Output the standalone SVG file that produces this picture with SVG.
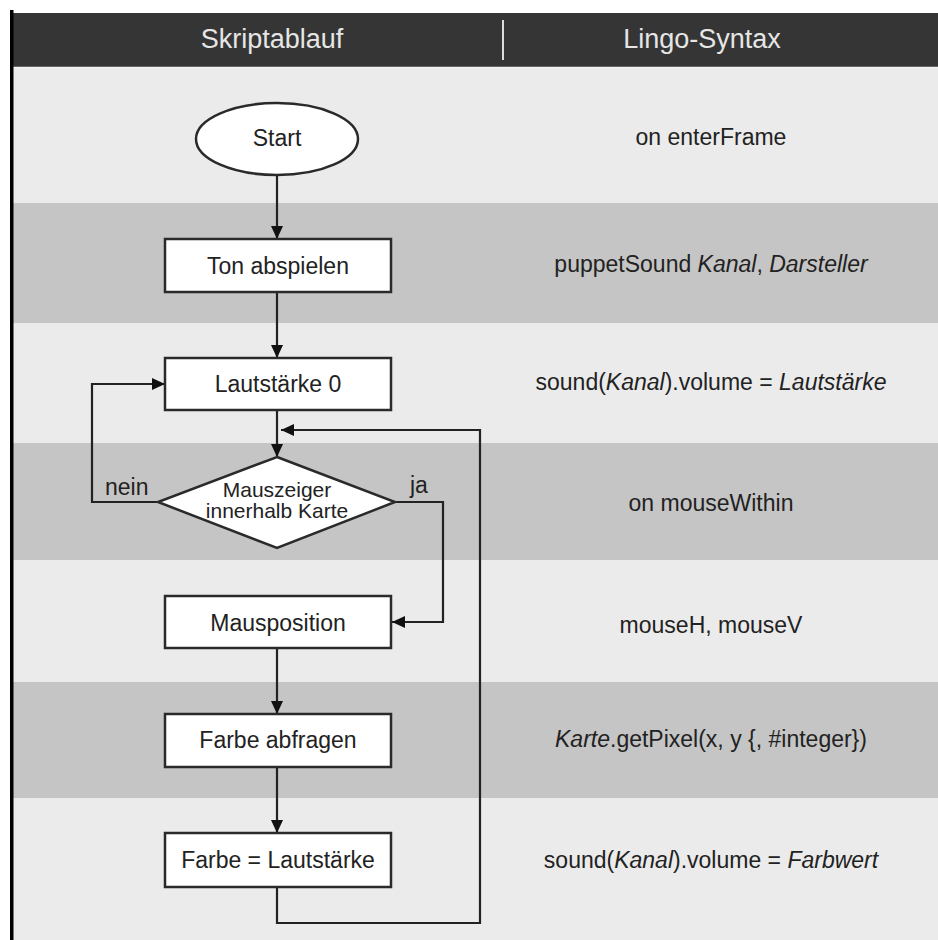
<svg xmlns="http://www.w3.org/2000/svg" width="938" height="940" viewBox="0 0 938 940">
  <style>
    text { font-family: "Liberation Sans", Arial, sans-serif; fill: #222; }
    .hdr { font-size: 27px; fill: #e6e6e6; text-anchor: middle; }
    .lbl { font-size: 23px; text-anchor: middle; }
    .dia { font-size: 21px; text-anchor: middle; }
    .code { font-size: 23px; text-anchor: middle; }
    .box { fill: #ffffff; stroke: #2a2a2a; stroke-width: 2.5; }
    .wire { fill: none; stroke: #222; stroke-width: 2.2; }
    .light { fill: #ebebeb; }
    .dark { fill: #c5c5c5; }
    i { font-style: italic; }
  </style>
  <defs>
    <marker id="arrow" markerUnits="userSpaceOnUse" markerWidth="14" markerHeight="12" refX="13" refY="6" orient="auto">
      <path d="M0,0 L13,6 L0,12 Z" fill="#111"/>
    </marker>
  </defs>

  <!-- page background -->
  <rect x="0" y="0" width="938" height="940" fill="#ffffff"/>

  <!-- alternating row bands -->
  <g id="bands">
    <rect class="light" x="13" y="66" width="925" height="137"/>
    <rect class="dark" x="13" y="203" width="925" height="120"/>
    <rect class="light" x="13" y="323" width="925" height="120"/>
    <rect class="dark" x="13" y="443" width="925" height="117"/>
    <rect class="light" x="13" y="560" width="925" height="122"/>
    <rect class="dark" x="13" y="682" width="925" height="116"/>
    <rect class="light" x="13" y="798" width="925" height="142"/>
  </g>

  <!-- header bar -->
  <g id="header">
    <rect x="13" y="13" width="925" height="54" fill="#353535"/>
    <line x1="13" y1="67.5" x2="938" y2="67.5" stroke="#f4f4f4" stroke-width="1.5"/>
    <line x1="503" y1="20" x2="503" y2="60" stroke="#dcdcdc" stroke-width="2"/>
    <text class="hdr" x="272" y="48">Skriptablauf</text>
    <text class="hdr" x="702" y="48">Lingo-Syntax</text>
  </g>

  <!-- left frame edge -->
  <rect x="10" y="10" width="3.5" height="930" fill="#000"/>

  <!-- connectors -->
  <g id="connectors">
    <line class="wire" x1="277" y1="175" x2="277" y2="239" marker-end="url(#arrow)"/>
    <line class="wire" x1="277" y1="292" x2="277" y2="358" marker-end="url(#arrow)"/>
    <line class="wire" x1="277" y1="410" x2="277" y2="457" marker-end="url(#arrow)"/>
    <path class="wire" d="M158,502 H92 V384 H165" marker-end="url(#arrow)"/>
    <path class="wire" d="M395,502 H443 V622 H392" marker-end="url(#arrow)"/>
    <line class="wire" x1="277" y1="648" x2="277" y2="714" marker-end="url(#arrow)"/>
    <line class="wire" x1="277" y1="767" x2="277" y2="833" marker-end="url(#arrow)"/>
    <path class="wire" d="M277,887 V923 H480 V430 H281" marker-end="url(#arrow)"/>
    <text x="105" y="495" style="font-size:23px">nein</text>
    <text x="410" y="493" style="font-size:23px">ja</text>
  </g>

  <!-- flowchart nodes -->
  <g id="start">
    <ellipse class="box" cx="277" cy="139" rx="81" ry="36"/>
    <text class="lbl" x="277" y="146">Start</text>
  </g>
  <g id="ton">
    <rect class="box" x="165" y="239" width="226" height="53"/>
    <text class="lbl" x="278" y="274">Ton abspielen</text>
  </g>
  <g id="lautstaerke">
    <rect class="box" x="165" y="358" width="226" height="52"/>
    <text class="lbl" x="278" y="392">Lautstärke 0</text>
  </g>
  <g id="decision">
    <polygon class="box" points="277,457 395,502 277,548 158,502"/>
    <text class="dia" x="277" y="497">Mauszeiger</text>
    <text class="dia" x="277" y="518">innerhalb Karte</text>
  </g>
  <g id="mausposition">
    <rect class="box" x="165" y="596" width="226" height="52"/>
    <text class="lbl" x="278" y="631">Mausposition</text>
  </g>
  <g id="farbe-abfragen">
    <rect class="box" x="165" y="714" width="226" height="53"/>
    <text class="lbl" x="278" y="748">Farbe abfragen</text>
  </g>
  <g id="farbe-lautstaerke">
    <rect class="box" x="165" y="833" width="226" height="54"/>
    <text class="lbl" x="278" y="868">Farbe = Lautstärke</text>
  </g>

  <!-- Lingo syntax column -->
  <g id="syntax">
    <text class="code" x="711" y="145">on enterFrame</text>
    <text class="code" x="711" y="272">puppetSound <tspan font-style="italic">Kanal</tspan>, <tspan font-style="italic">Darsteller</tspan></text>
    <text class="code" x="711" y="390">sound(<tspan font-style="italic">Kanal</tspan>).volume = <tspan font-style="italic">Lautstärke</tspan></text>
    <text class="code" x="711" y="511">on mouseWithin</text>
    <text class="code" x="711" y="633">mouseH, mouseV</text>
    <text class="code" x="711" y="747"><tspan font-style="italic">Karte</tspan>.getPixel(x, y {, #integer})</text>
    <text class="code" x="711" y="868">sound(<tspan font-style="italic">Kanal</tspan>).volume = <tspan font-style="italic">Farbwert</tspan></text>
  </g>
</svg>
